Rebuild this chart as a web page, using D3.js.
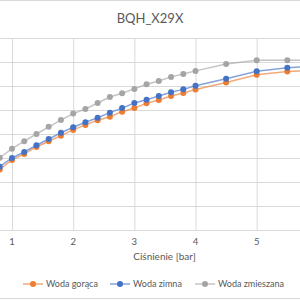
<!DOCTYPE html>
<html>
<head>
<meta charset="utf-8">
<script src="https://cdnjs.cloudflare.com/ajax/libs/d3/7.8.5/d3.min.js"></script>
<style>
  body { margin:0; background:#fff; }
  svg { display:block; font-family:Lato, "Open Sans", sans-serif; }
  .grid line { stroke:#d9d9d9; stroke-width:1; }
  .grid .domain { display:none; }
</style>
</head>
<body>
<div id="chart"></div>
<script>
// pressure [bar]
var pressure = [0.8,1.0,1.2,1.4,1.6,1.8,2.0,2.2,2.4,2.6,2.8,3.0,3.2,3.4,3.6,3.8,4.0,4.5,5.0,5.5,6.0];
var hotWater  = [25.2,29.2,31.7,34.6,37.0,39.3,41.7,43.8,45.7,47.2,49.3,50.8,52.8,54.2,55.8,57.1,58.5,61.5,64.7,66.0,66.7];
var coldWater = [26.4,30.0,32.5,35.3,37.9,40.5,42.8,44.9,46.8,48.9,50.8,52.9,54.3,55.8,57.4,58.6,60.1,63.0,66.1,67.6,68.3];
var mixWater  = [30.1,33.9,37.0,40.0,43.0,45.8,48.5,50.4,52.9,55.4,57.0,58.8,60.7,62.1,63.8,65.0,66.3,69.2,70.7,70.7,70.8];
var xTicks = [0,1,2,3,4,5,6,7];
var xLabels = [1,2,3,4,5];
var yTicks = [0,10,20,30,40,50,60,70,80];

var series = [
  {name:"Woda gorąca", values:hotWater, color:"#ed7d31"},
  {name:"Woda zimna", values:coldWater, color:"#4472c4"},
  {name:"Woda zmieszana", values:mixWater, color:"#a5a5a5"}
];

var width = 300, height = 300;
var svg = d3.select("#chart").append("svg")
  .attr("width", width).attr("height", height);

// plot area is cropped on the left and right
var xScale = d3.scaleLinear().domain([1,5]).range([12,256.7]);
var yScale = d3.scaleLinear().domain([0,80]).range([230,38]);

// chart border
svg.append("line").attr("x1",0).attr("x2",width).attr("y1",0.5).attr("y2",0.5)
  .attr("stroke","#d9d9d9");
svg.append("line").attr("x1",0).attr("x2",width).attr("y1",298.5).attr("y2",298.5)
  .attr("stroke","#d9d9d9");

// grid
svg.append("g").attr("class","grid")
  .call(d3.axisLeft(yScale).tickValues(yTicks).tickSize(-400).tickFormat(""))
  .attr("transform","translate(-50,0)");
svg.append("g").attr("class","grid")
  .attr("transform","translate(0,230)")
  .call(d3.axisBottom(xScale).tickValues(xTicks).tickSize(-192).tickFormat(""));

// tick labels
svg.selectAll(".xlab").data(xLabels).enter()
  .append("text").attr("class","xlab")
  .attr("x",function(d){return xScale(d);})
  .attr("y",245)
  .attr("text-anchor","middle")
  .attr("font-size","9.5px")
  .attr("fill","#595959")
  .text(function(d){return d;});

svg.append("text").text("BQH_X29X")
  .attr("x",150).attr("y",23)
  .attr("text-anchor","middle")
  .attr("font-size","13px").attr("fill","#595959");

svg.append("text").text("Ciśnienie [bar]")
  .attr("x",164.5).attr("y",259.5)
  .attr("text-anchor","middle")
  .attr("font-size","10px").attr("fill","#595959");

// lines + markers
var line = d3.line()
  .x(function(d,i){return xScale(pressure[i]);})
  .y(function(d){return yScale(d);});

series.forEach(function(s){
  svg.append("path").datum(s.values)
    .attr("d", line)
    .attr("fill","none")
    .attr("stroke", s.color)
    .attr("stroke-opacity",0.65)
    .attr("stroke-width",1.5);
  svg.selectAll(null).data(s.values).enter().append("circle")
    .attr("cx",function(d,i){return xScale(pressure[i]);})
    .attr("cy",function(d){return yScale(d);})
    .attr("r",3)
    .attr("fill", s.color);
});

// legend
var legendX = [23,110,195];
series.forEach(function(s,i){
  var g = svg.append("g").attr("transform","translate("+legendX[i]+",284)");
  g.append("line").attr("x1",0).attr("x2",20).attr("y1",0).attr("y2",0)
    .attr("stroke",s.color).attr("stroke-opacity",0.65).attr("stroke-width",1.5);
  g.append("circle").attr("cx",10).attr("cy",0).attr("r",3).attr("fill",s.color);
  g.append("text").text(s.name).attr("x",23).attr("y",3.2)
    .attr("font-size","9px").attr("fill","#595959");
});
</script>
</body>
</html>
